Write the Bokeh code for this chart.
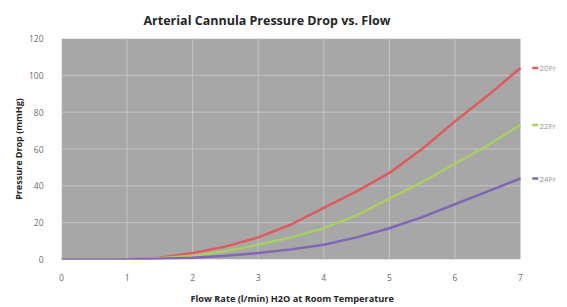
from bokeh.plotting import figure
from bokeh.models import Range1d, FixedTicker, Title
from bokeh.core.properties import value
from bokeh.embed import file_html
from bokeh.resources import INLINE

flow = [0, 0.5, 1, 1.5, 2, 2.5, 3, 3.5, 4, 4.5, 5, 5.5, 6, 6.5, 7]
fr20 = [0, 0, 0, 1, 3.5, 7, 12, 19, 28, 37, 47, 60, 75, 89, 104]
fr22 = [0, 0, 0, 0.7, 2, 4.5, 8, 12, 17, 24, 33, 42, 52, 62, 73]
fr24 = [0, 0, 0, 0.4, 1, 2, 3.5, 5.5, 8, 12, 17, 23, 30, 37, 44]
series_names = ["20Fr", "22Fr", "24Fr"]
x_ticks = [0, 1, 2, 3, 4, 5, 6, 7]
y_ticks = [0, 20, 40, 60, 80, 100, 120]

colors = ["#e0595b", "#a9cf63", "#7f67b5"]
FONT = "Open Sans"
XMAX, YMAX = 7, 120
X_END = 7.595  # room on the right for the series labels

p = figure(frame_width=498, frame_height=221, output_backend="svg", toolbar_location=None,
           x_range=Range1d(0, X_END), y_range=Range1d(0, YMAX),
           min_border_left=61, min_border_right=0, min_border_top=37, min_border_bottom=46)
p.title.text = "Arterial Cannula Pressure Drop vs. Flow"
p.title.align = "left"
p.title.text_font = FONT
p.title.text_font_size = "12.5px"
p.title.text_font_style = "bold"
p.title.text_color = "#262626"
p.title.offset = 82
p.title.standoff = 19

p.background_fill_color = "white"
p.border_fill_color = "white"
p.outline_line_color = None
p.grid.visible = False

# plot area background and grid, limited to the data area
p.quad(left=[0], right=[XMAX], bottom=[0], top=[YMAX], fill_color="#a7a7a7", line_color=None)
p.segment(x0=x_ticks[1:-1], y0=[0] * (len(x_ticks) - 2), x1=x_ticks[1:-1], y1=[YMAX] * (len(x_ticks) - 2),
          line_color="#c4c4c4", line_width=1)
p.segment(x0=[0] * (len(y_ticks) - 2), y0=y_ticks[1:-1], x1=[XMAX] * (len(y_ticks) - 2), y1=y_ticks[1:-1],
          line_color="#c4c4c4", line_width=1)

p.xaxis.ticker = FixedTicker(ticks=x_ticks)
p.yaxis.ticker = FixedTicker(ticks=y_ticks)
for ax in (p.xaxis[0], p.yaxis[0]):
    ax.axis_line_color = None
    ax.major_tick_line_color = None
    ax.minor_tick_line_color = None
    ax.major_label_text_font = FONT
    ax.major_label_text_font_size = "8.5px"
    ax.major_label_text_color = "#6b6b6b"
    ax.axis_label_text_font = FONT
    ax.axis_label_text_font_style = "bold"
    ax.axis_label_text_color = "#262626"
p.yaxis.axis_label_text_font_size = "9px"
p.xaxis.major_label_standoff = 8
p.yaxis.major_label_standoff = 12
p.yaxis.axis_label = "Pressure Drop (mmHg)"
p.yaxis.axis_label_standoff = 1

# x-axis title, aligned under the data area (not the whole frame)
p.add_layout(Title(text="Flow Rate (l/min) H2O at Room Temperature", align="left", offset=129,
                   text_font=FONT, text_font_size="9.2px", text_font_style="bold",
                   text_color="#262626", standoff=13), "below")

ends = []
for ys, c in zip([fr20, fr22, fr24], colors):
    p.line(flow, ys, line_color=c, line_width=2.5)
    ends.append(ys[-1])

p.segment(x0=[7.18] * 3, y0=ends, x1=[7.27] * 3, y1=ends, line_color=colors, line_width=2.5)
p.text(x=[7.29] * 3, y=ends, text=series_names, text_color="#959595",
       text_font=value(FONT), text_font_size="8px", text_baseline="middle")

open("out.html", "w").write(file_html(p, INLINE))
